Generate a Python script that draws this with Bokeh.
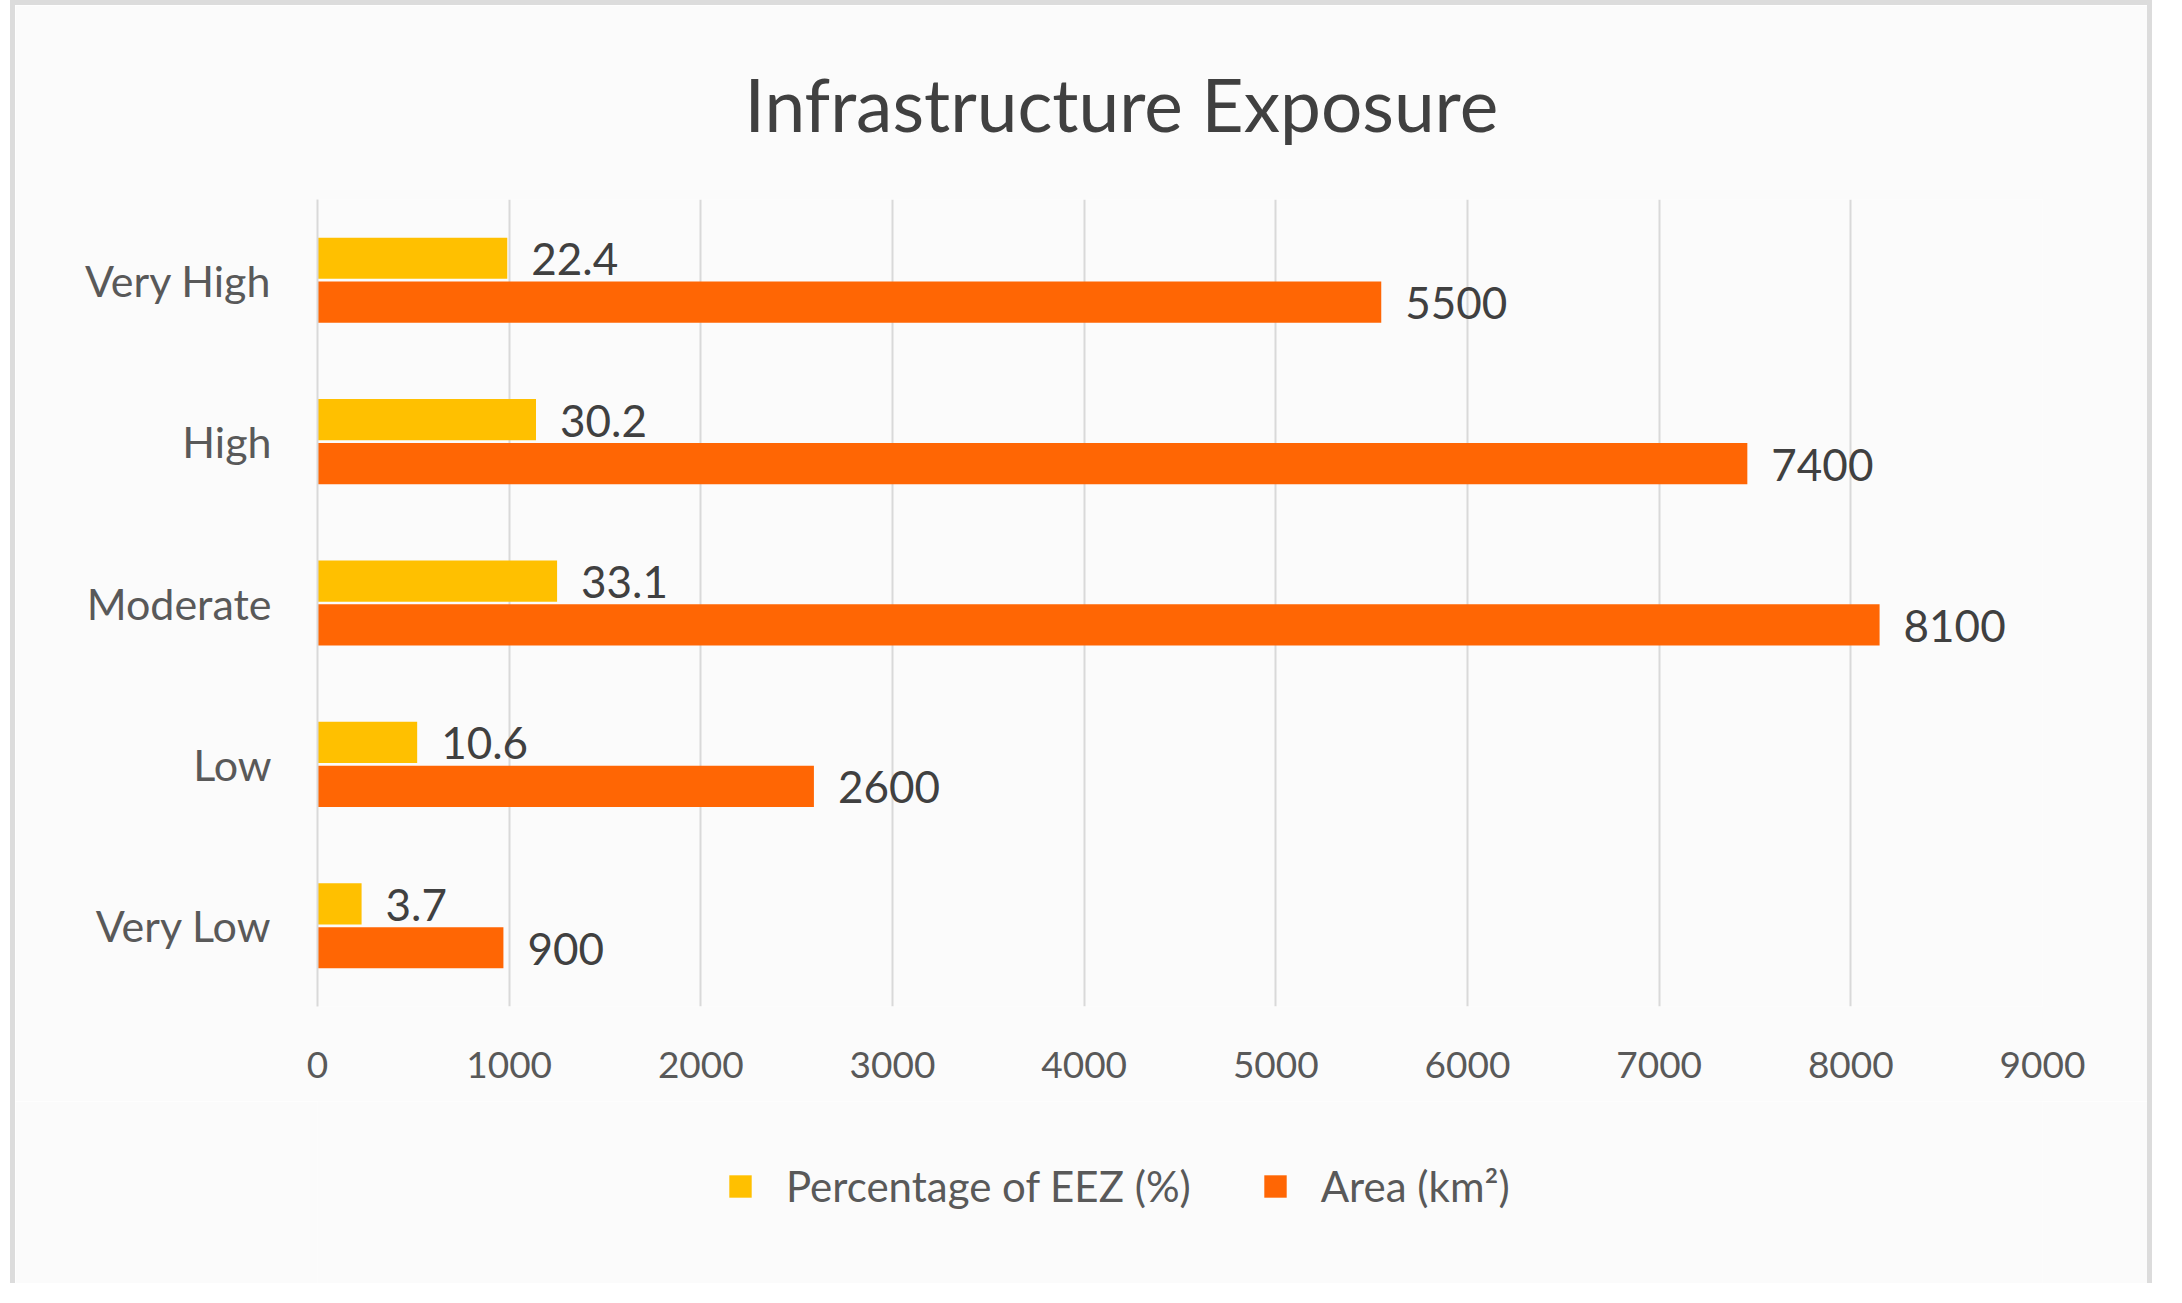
from bokeh.plotting import figure
from bokeh.layouts import column
from bokeh.models import Range1d, FactorRange, FixedTicker, Legend, LegendItem, ColumnDataSource
from bokeh.transform import dodge
from bokeh.core.properties import value
from bokeh.embed import file_html
from bokeh.resources import INLINE

# ---- data ----
categories = ["Very High", "High", "Moderate", "Low", "Very Low"]
pct_bar = [990, 1140, 1250, 520, 230]          # yellow bar lengths on the axis
pct_labels = ["22.4", "30.2", "33.1", "10.6", "3.7"]
area_bar = [5550, 7460, 8150, 2590, 970]       # orange bar lengths on the axis
area_labels = ["5500", "7400", "8100", "2600", "900"]
x_ticks = [0, 1000, 2000, 3000, 4000, 5000, 6000, 7000, 8000, 9000]
series_names = ["Percentage of EEZ (%)", "Area (km²)"]
title_text = "Infrastructure Exposure"

YELLOW = "#ffc000"
ORANGE = "#ff6604"
BG = "#fbfbfb"
EDGE = "5px solid #dcdcdc"
FONT = "Lato"

src = ColumnDataSource(dict(cat=categories, pct=pct_bar, pct_label=pct_labels,
                            area=area_bar, area_label=area_labels))

# ---------------- main chart ----------------
p = figure(width=2142, height=1101,
           y_range=FactorRange(*list(reversed(categories))),
           x_range=Range1d(0, 9000),
           output_backend="svg", toolbar_location=None,
           min_border_left=302, min_border_right=115,
           min_border_top=194, min_border_bottom=100)
p.margin = (0, 0, 0, 10)
p.styles = {"border-left": EDGE, "border-top": EDGE, "border-right": EDGE}
p.background_fill_color = BG
p.border_fill_color = BG
p.outline_line_color = None

p.title.text = title_text
p.title.text_font = FONT
p.title.text_font_size = "73px"
p.title.text_font_style = "normal"
p.title.text_color = "#404040"
p.title.align = "left"
p.title.offset = 427
p.title.standoff = 104

off = 0.136
hgt = 0.255
r1 = p.hbar(y=dodge("cat", off, range=p.y_range), right="pct", left=0, height=hgt,
            source=src, fill_color=YELLOW, line_color=None)
r2 = p.hbar(y=dodge("cat", -off, range=p.y_range), right="area", left=0, height=hgt,
            source=src, fill_color=ORANGE, line_color=None)

p.text(x="pct", y=dodge("cat", off, range=p.y_range), text="pct_label", source=src,
       x_offset=24, y_offset=1, text_align="left", text_baseline="middle",
       text_font=value(FONT), text_font_size="44px", text_color="#404040")
p.text(x="area", y=dodge("cat", -off, range=p.y_range), text="area_label", source=src,
       x_offset=24, y_offset=1, text_align="left", text_baseline="middle",
       text_font=value(FONT), text_font_size="44px", text_color="#404040")

xa = p.xaxis[0]
xa.ticker = FixedTicker(ticks=x_ticks)
xa.axis_line_color = None
xa.major_tick_line_color = None
xa.minor_tick_line_color = None
xa.major_tick_out = 0
xa.major_label_standoff = 45
xa.major_label_text_font = FONT
xa.major_label_text_font_size = "37px"
xa.major_label_text_color = "#595959"

ya = p.yaxis[0]
ya.axis_line_color = "#d9d9d9"
ya.axis_line_width = 2
ya.major_tick_line_color = None
ya.minor_tick_line_color = None
ya.major_tick_out = 0
ya.major_label_standoff = 46
ya.major_label_text_font = FONT
ya.major_label_text_font_size = "43px"
ya.major_label_text_color = "#595959"

p.xgrid.grid_line_color = "#d9d9d9"
p.xgrid.grid_line_width = 2
p.xgrid.ticker = FixedTicker(ticks=x_ticks)
p.ygrid.grid_line_color = None

# ---------------- legend strip ----------------
# its frame is aligned with the main chart's frame by the column layout
p2 = figure(width=2142, height=182, x_range=Range1d(-2, -1), y_range=Range1d(0, 1),
            output_backend="svg", toolbar_location=None, min_border=0)
p2.margin = (0, 0, 0, 10)
p2.styles = {"border-left": EDGE, "border-right": EDGE}
p2.background_fill_color = BG
p2.border_fill_color = BG
p2.outline_line_color = None
p2.axis.visible = False
p2.grid.visible = False

# same series, placed wholly outside this strip's view: only their legend swatches show
k1 = p2.hbar(y=-5, right="pct", left=0, height=0.1, source=src,
             fill_color=YELLOW, line_color=None)
k2 = p2.hbar(y=-5, right="area", left=0, height=0.1, source=src,
             fill_color=ORANGE, line_color=None)

legend = Legend(items=[LegendItem(label=series_names[0], renderers=[k1]),
                       LegendItem(label=series_names[1], renderers=[k2])],
                orientation="horizontal", location=(409, 72),
                glyph_width=28, glyph_height=28, label_standoff=32, spacing=70,
                padding=0, margin=0, border_line_color=None,
                background_fill_alpha=0,
                label_text_font=FONT, label_text_font_size="42px",
                label_text_color="#595959")
p2.add_layout(legend)

layout = column(p, p2)
open("out.html", "w").write(file_html(layout, INLINE))
